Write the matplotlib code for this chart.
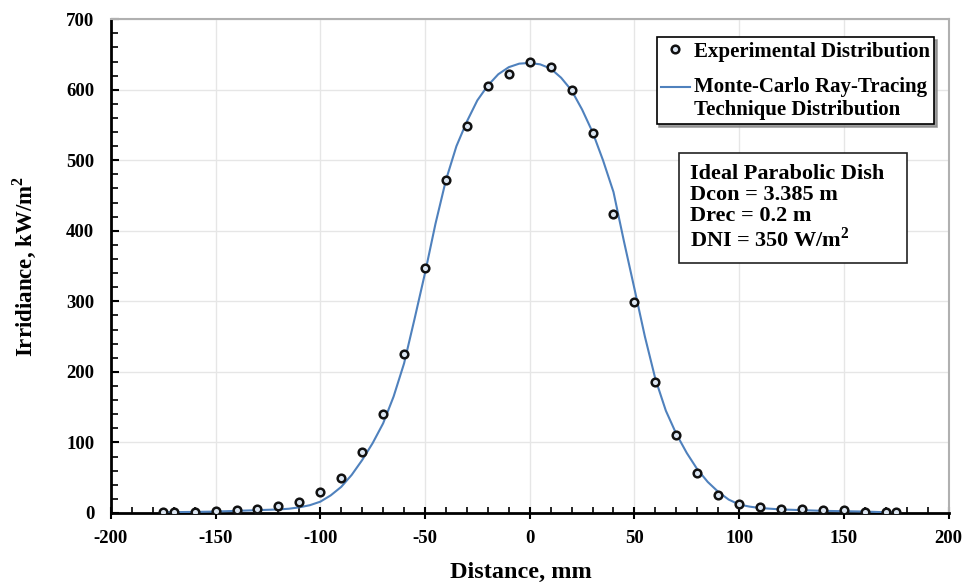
import matplotlib
matplotlib.use("Agg")
import matplotlib.pyplot as plt
from matplotlib.ticker import MultipleLocator
from matplotlib.legend_handler import HandlerLine2D

plt.rcParams['font.family'] = ['Liberation Serif', 'DejaVu Serif']
plt.rcParams['font.weight'] = 'bold'
plt.rcParams['axes.unicode_minus'] = False
plt.rcParams['mathtext.fontset'] = 'custom'
plt.rcParams['mathtext.bf'] = 'Liberation Serif:bold'
plt.rcParams['mathtext.rm'] = 'Liberation Serif:bold'

# Experimental distribution
exp_x = [-175, -170, -160, -150, -140, -130, -120, -110, -100, -90, -80, -70, -60, -50, -40, -30, -20, -10,
         0, 10, 20, 30, 40, 50, 60, 70, 80, 90, 100, 110, 120, 130, 140, 150, 160, 170, 175]
exp_y = [1, 1, 2, 3, 4, 5, 10, 16, 30, 50, 86, 140, 226, 347, 472, 549, 605, 622,
         639, 632, 599, 539, 424, 299, 186, 110, 57, 26, 13, 9, 6, 5, 4, 4, 2, 1, 1]

# Monte-Carlo ray tracing curve
mc_x = [-175, -160, -150, -140, -130, -120, -115, -110, -105, -100, -95, -90, -85, -80, -75, -70, -65, -60,
        -55, -50, -45, -40, -35, -30, -25, -20, -15, -10, -5, 0, 5, 10, 15, 20, 25, 30, 35, 40, 45, 50,
        55, 60, 65, 70, 75, 80, 85, 90, 95, 100, 105, 110, 115, 120, 130, 140, 150, 160, 170, 175]
mc_y = [1, 1.5, 2, 3, 4, 5, 6, 8, 11, 16, 25, 37, 54, 75, 99, 127, 165, 212,
        275, 340, 410, 472, 520, 555, 585, 606, 622, 632, 637, 638, 636, 630, 617, 599, 572, 540, 500, 455, 385, 318,
        250, 190, 145, 112, 85, 62, 44, 30, 19, 12, 9, 7, 6, 5, 4, 3, 2.5, 2, 1, 1]


class UpHandler(HandlerLine2D):
    def create_artists(self, legend, orig_handle, xdescent, ydescent, width, height, fontsize, trans):
        return super().create_artists(legend, orig_handle, xdescent, ydescent - 1.15 * fontsize,
                                      width, height, fontsize, trans)


fig = plt.figure(figsize=(9.64, 5.82), dpi=100)
ax = fig.add_axes([0.115, 0.1186, 0.869, 0.8484])

line, = ax.plot(mc_x, mc_y, color='#4f81bd', lw=1.5, zorder=3,
                label='Monte-Carlo Ray-Tracing\nTechnique Distribution')
pts, = ax.plot(exp_x, exp_y, linestyle='none', marker='o', markersize=5.5, markeredgewidth=1.8,
               markeredgecolor='#111111', markerfacecolor='#dce6f2', zorder=4,
               label='Experimental Distribution')

ax.set_xlim(-200, 200)
ax.set_ylim(0, 700)
ax.xaxis.set_major_locator(MultipleLocator(50))
ax.xaxis.set_minor_locator(MultipleLocator(10))
ax.yaxis.set_major_locator(MultipleLocator(100))
ax.yaxis.set_minor_locator(MultipleLocator(20))
ax.grid(True, which='major', color='#e6e6e6', lw=1)
ax.set_axisbelow(True)

for s in ['left', 'bottom']:
    ax.spines[s].set_color('black')
    ax.spines[s].set_linewidth(2)
for s in ['top', 'right']:
    ax.spines[s].set_color('#b0b0b0')
    ax.spines[s].set_linewidth(1.5)

ax.tick_params(axis='x', which='major', direction='inout', length=8, width=1.5, labelsize=13.5, pad=8)
ax.tick_params(axis='x', which='minor', direction='in', length=4, width=1.2)
ax.tick_params(axis='y', which='major', direction='in', length=6, width=1.5, labelsize=13.5, pad=12)
ax.tick_params(axis='y', which='minor', direction='in', length=5, width=1.2)
ax.tick_params(top=False, right=False, which='both')
for lab in ax.get_xticklabels() + ax.get_yticklabels():
    lab.set_fontweight('bold')

ax.set_xlabel('Distance, mm', fontsize=17.5, fontweight='bold', va='center')
ax.xaxis.set_label_coords(0.49, -0.121)
ax.set_ylabel('Irridiance, kW/m$^\\mathbf{2}$', fontsize=16.5, fontweight='bold', va='center')
ax.yaxis.set_label_coords(-0.1038, 0.5)

leg = ax.legend([pts, line], [pts.get_label(), line.get_label()],
                handler_map={line: UpHandler()},
                loc='upper right', bbox_to_anchor=(0.983, 0.963),
                frameon=True, fancybox=False, shadow={'color': '#888888', 'alpha': 0.8}, edgecolor='black',
                prop={'family': 'Liberation Serif', 'weight': 'bold', 'size': 15},
                handlelength=1.4, handletextpad=0.2, borderpad=0.2, labelspacing=0.75,
                borderaxespad=0)
leg.get_frame().set_linewidth(1.2)

fig.text(0.7158, 0.718,
         'Ideal Parabolic Dish  \nDcon = 3.385 m\nDrec = 0.2 m\nDNI = 350 W/m$^\\mathbf{2}$',
         fontsize=16, fontweight='bold', va='top', ha='left', linespacing=1.07,
         bbox=dict(boxstyle='square,pad=0.5', facecolor='white', edgecolor='#222222', linewidth=1.2))

fig.savefig('out.png', dpi=100)
